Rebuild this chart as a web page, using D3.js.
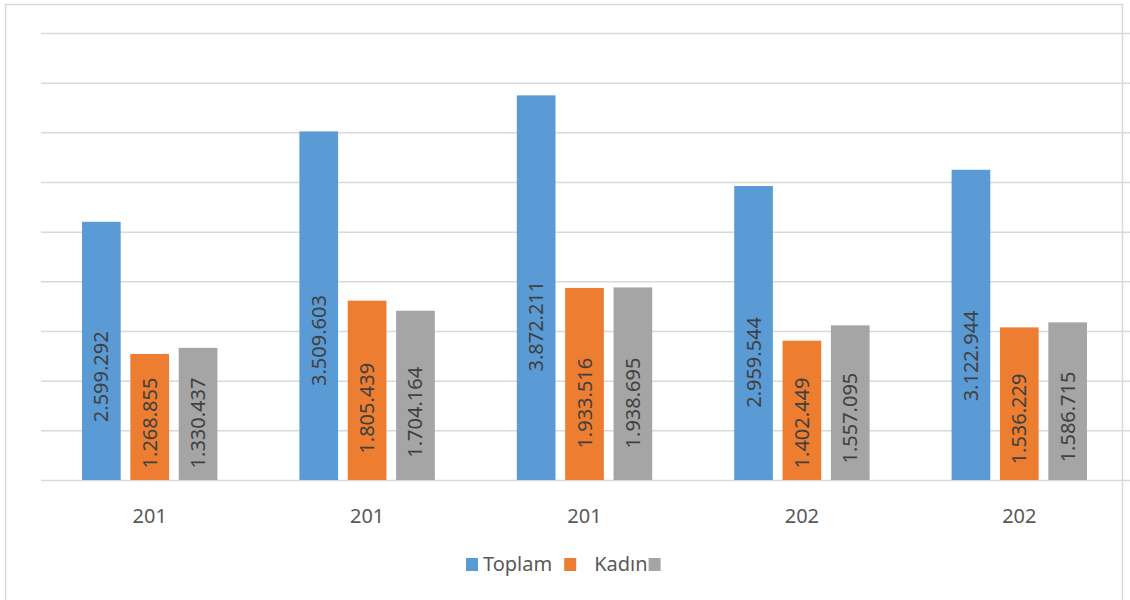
<!DOCTYPE html>
<html>
<head>
<meta charset="utf-8">
<script src="https://cdn.jsdelivr.net/npm/d3@7"></script>
<style>
  body { margin: 0; background: #fff; }
  svg { display: block; font-family: "Noto Sans", "Liberation Sans", sans-serif; }
</style>
</head>
<body>
<svg id="chart" width="1130" height="600"></svg>
<script>
// ===== data =====
var categories = ["201", "201", "201", "202", "202"];
var seriesNames = ["Toplam", "Kadın", ""];
var toplam = [2599292, 3509603, 3872211, 2959544, 3122944];
var kadin  = [1268855, 1805439, 1933516, 1402449, 1536229];
var ucuncu = [1330437, 1704164, 1938695, 1557095, 1586715];
var yTicks = [0, 500000, 1000000, 1500000, 2000000, 2500000, 3000000, 3500000, 4000000, 4500000];
var colors = ["#5B9BD5", "#ED7D31", "#A5A5A5"];

var svg = d3.select("#chart");
var margin = { top: 33, right: 2, bottom: 120, left: 41 };
var width = 1130, height = 600;
var innerW = width - margin.left - margin.right;
var innerH = height - margin.top - margin.bottom;

// outer border
svg.append("rect")
  .attr("x", 5.5).attr("y", 4.5)
  .attr("width", 1117).attr("height", 620)
  .attr("fill", "none")
  .attr("stroke", "#d9d9d9")
  .attr("stroke-width", 1.5);

var g = svg.append("g").attr("transform", `translate(${margin.left},${margin.top})`);

var x0 = d3.scaleBand().domain(d3.range(categories.length)).range([0, innerW]).padding(0);
var x1 = d3.scaleBand().domain([0, 1, 2]).range([41, x0.bandwidth() - 41]).paddingInner(0.2).paddingOuter(0);
var y = d3.scaleLinear().domain([0, 4500000]).range([innerH, 0]);

// gridlines
g.append("g")
  .call(d3.axisLeft(y).tickValues(yTicks).tickSize(-(innerW + 2)).tickFormat(""))
  .call(a => a.select(".domain").remove())
  .call(a => a.selectAll(".tick line").attr("stroke", "#d9d9d9").attr("stroke-width", 1.5));

// bars
var rows = categories.map((c, i) => ({ i: i, vals: [toplam[i], kadin[i], ucuncu[i]] }));
var groups = g.selectAll("g.grp").data(rows).enter().append("g")
  .attr("class", "grp")
  .attr("transform", d => `translate(${x0(d.i)},0)`);

groups.selectAll("rect").data(d => d.vals.map((v, k) => ({ k: k, v: v })))
  .enter().append("rect")
  .attr("x", d => x1(d.k))
  .attr("width", x1.bandwidth())
  .attr("y", d => y(d.v))
  .attr("height", d => innerH - y(d.v))
  .attr("fill", d => colors[d.k]);

// value labels (rotated, inside bar)
var fmt = v => d3.format(",")(v).replace(/,/g, ".");
groups.selectAll("text.val").data(d => d.vals.map((v, k) => ({ k: k, v: v })))
  .enter().append("text")
  .attr("class", "val")
  .attr("transform", d => {
    var cx = x1(d.k) + x1.bandwidth() / 2;
    var cy = Math.min(y(d.v) + 0.6 * (innerH - y(d.v)), innerH - 57);
    return `translate(${cx},${cy}) rotate(-90)`;
  })
  .attr("text-anchor", "middle")
  .attr("dy", "0.35em")
  .attr("font-size", 20)
  .attr("fill", "#404040")
  .text(d => fmt(d.v));

// category axis
g.append("g")
  .attr("transform", `translate(0,${innerH})`)
  .call(d3.axisBottom(x0).tickSize(0).tickFormat(i => categories[i]))
  .call(a => a.select(".domain").remove())
  .call(a => a.selectAll("text")
    .attr("font-size", 20)
    .attr("font-family", "\"Noto Sans\", sans-serif")
    .attr("fill", "#595959")
    .attr("dy", "2.0em"));

// legend
var legend = svg.append("g").attr("transform", "translate(0,564)");
var lx = 466;
seriesNames.forEach(function(name, k) {
  legend.append("rect")
    .attr("x", lx).attr("y", -6)
    .attr("width", 12).attr("height", 13)
    .attr("fill", colors[k]);
  lx += 17;
  if (k === 1) lx += 13;
  var t = legend.append("text")
    .attr("x", lx).attr("y", 0)
    .attr("dy", "0.35em")
    .attr("font-size", 20)
    .attr("fill", "#595959")
    .text(name);
  var w = name ? t.node().getComputedTextLength() : 0;
  lx += w + (k === 0 ? 12 : 1);
});
</script>
</body>
</html>
